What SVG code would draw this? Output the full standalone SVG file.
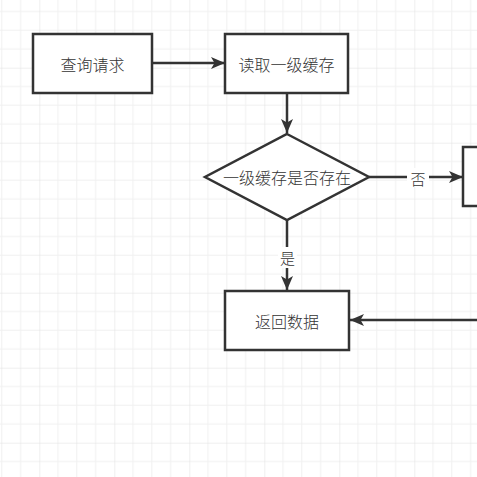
<svg xmlns="http://www.w3.org/2000/svg" width="477" height="477" viewBox="0 0 477 477">
  <defs>
    <pattern id="grid" patternUnits="userSpaceOnUse" x="39.3" y="-7.3" width="75" height="75">
      <path d="M18.75 0V75M37.5 0V75M56.25 0V75M0 18.75H75M0 37.5H75M0 56.25H75" stroke="#f0f0f0" stroke-width="1" fill="none"/>
      <path d="M0 0V75M0 0H75" stroke="#e0e0e0" stroke-width="1" fill="none"/>
    </pattern>
    <marker id="arrow" viewBox="0 0 14 12" refX="14" refY="6" markerWidth="14" markerHeight="12" markerUnits="userSpaceOnUse" orient="auto">
      <path d="M0 0L14 6L0 12L3.5 6Z" fill="#333333"/>
    </marker>
    <style>
      .node { fill: #ffffff; stroke: #333333; stroke-width: 2.5; }
      .label { font-family: "Noto Sans CJK SC", "Liberation Sans", sans-serif; font-size: 16px; font-weight: 300; fill: #333333; text-anchor: middle; dominant-baseline: central; }
      .edge { stroke: #333333; stroke-width: 2.5; fill: none; marker-end: url(#arrow); }
      .elabel { font-family: "Noto Sans CJK SC", "Liberation Sans", sans-serif; font-size: 15px; font-weight: 300; fill: #333333; text-anchor: middle; dominant-baseline: central; }
    </style>
  </defs>
  <rect width="477" height="477" fill="#ffffff"/>
  <rect width="477" height="477" fill="url(#grid)"/>

  <g id="connectors">
    <path class="edge" d="M152 63H225"/>
    <path class="edge" d="M287 93V133"/>
    <path class="edge" d="M369 177H463"/>
    <rect x="407" y="168" width="22" height="19" fill="#ffffff"/>
    <text class="elabel" x="418" y="178">否</text>
    <path class="edge" d="M287 220V290"/>
    <rect x="278" y="247" width="19" height="21" fill="#ffffff"/>
    <text class="elabel" x="287.5" y="257">是</text>
    <path class="edge" d="M478 320H350"/>
  </g>

  <g id="node-query">
    <rect class="node" x="33" y="34" width="119" height="59"/>
    <text class="label" x="92.5" y="63.5">查询请求</text>
  </g>
  <g id="node-read-l1">
    <rect class="node" x="225" y="34" width="123" height="59"/>
    <text class="label" x="286.5" y="63.5">读取一级缓存</text>
  </g>
  <g id="node-decision">
    <path class="node" d="M287 134L369 177L287 220L205 177Z"/>
    <text class="label" x="287" y="177">一级缓存是否存在</text>
  </g>
  <g id="node-right">
    <rect class="node" x="463" y="147" width="40" height="59"/>
  </g>
  <g id="node-return">
    <rect class="node" x="225" y="291" width="124" height="59"/>
    <text class="label" x="287" y="320.5">返回数据</text>
  </g>
</svg>
